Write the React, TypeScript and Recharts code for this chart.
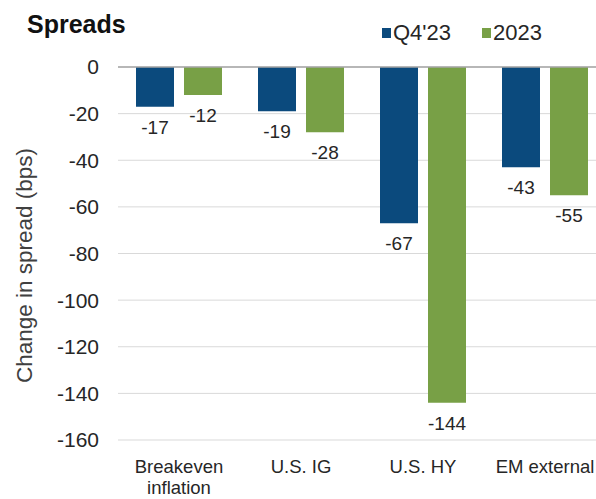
import { Bar, BarChart, CartesianGrid, LabelList, Legend, ReferenceLine, XAxis, YAxis } from 'recharts'

// Categories and values
const categories = ['Breakeven\ninflation', 'U.S. IG', 'U.S. HY', 'EM external']
const seriesNames = ["Q4'23", '2023']
const q4Values = [-17, -19, -67, -43]
const fullYearValues = [-12, -28, -144, -55]
const yTicks = [0, -20, -40, -60, -80, -100, -120, -140, -160]

const BLUE = '#0b4a7d'
const GREEN = '#78a046'
const FONT = '"Liberation Sans", Arial, sans-serif'
const TEXT = '#262626'

const data = categories.map((name, i) => ({
  name,
  q4: q4Values[i],
  year: fullYearValues[i],
}))

function CategoryTick(props: any) {
  const { x, y, payload } = props
  const lines = String(payload.value).split('\n')
  return (
    <text x={x} y={y} textAnchor="middle" fontFamily={FONT} fontSize={18.5} fill={TEXT}>
      {lines.map((line, i) => (
        <tspan key={i} x={x} dy={i === 0 ? 33 : 21}>
          {line}
        </tspan>
      ))}
    </text>
  )
}

function ValueLabel(props: any) {
  const { x, y, width, height, value } = props
  const bottom = Math.max(y, y + height)
  return (
    <text x={x + width / 2} y={bottom + 27} textAnchor="middle" fontFamily={FONT} fontSize={19} fill={TEXT}>
      {value}
    </text>
  )
}

function LegendContent(props: any) {
  // keep the series order of the reference (recharts sorts legend items by name)
  const payload = [...props.payload].sort(
    (a: any, b: any) => seriesNames.indexOf(a.value) - seriesNames.indexOf(b.value),
  )
  return (
    <div style={{ display: 'flex', fontFamily: FONT, fontSize: 22, color: TEXT, lineHeight: '22px' }}>
      {payload.map((item: any, i: number) => (
        <div key={i} style={{ display: 'flex', alignItems: 'center', marginRight: i === 0 ? 31 : 0 }}>
          <span style={{ width: 9, height: 10, background: item.color, display: 'inline-block', marginRight: 2 }} />
          <span>{item.value}</span>
        </div>
      ))}
    </div>
  )
}

function AxisTitle(props: any) {
  const { viewBox } = props
  const cx = 24
  const cy = viewBox.y + viewBox.height / 2 + 12
  return (
    <text
      x={cx}
      y={cy}
      transform={`rotate(-90 ${cx} ${cy})`}
      textAnchor="middle"
      dominantBaseline="central"
      fontFamily={FONT}
      fontSize={22.5}
      fill="#404040"
    >
      Change in spread (bps)
    </text>
  )
}

export default function App() {
  return (
    <div style={{ position: 'absolute', left: 0, top: 0, width: 596, height: 499, overflow: 'hidden', background: '#fff' }}>
      <div
        style={{
          position: 'absolute',
          left: 27,
          top: 12,
          fontFamily: FONT,
          fontWeight: 'bold',
          fontSize: 25,
          lineHeight: '25px',
          color: '#111',
          zIndex: 2,
        }}
      >
        Spreads
      </div>
      <BarChart
        width={640}
        height={499}
        data={data}
        margin={{ top: 67, right: 34, bottom: 0, left: 0 }}
        barSize={38}
        barGap={10}
      >
        <CartesianGrid vertical={false} stroke="#d9d9d9" />
        <XAxis
          dataKey="name"
          height={59}
          axisLine={false}
          tickLine={false}
          tickSize={0}
          tickMargin={0}
          interval={0}
          tick={<CategoryTick />}
        />
        <YAxis
          width={118}
          domain={[-160, 0]}
          ticks={yTicks}
          axisLine={false}
          tickLine={false}
          tickSize={0}
          tickMargin={19}
          tick={{ fontFamily: FONT, fontSize: 21, fill: TEXT }}
          label={<AxisTitle />}
        />
        <ReferenceLine y={0} stroke="#a6a6a6" strokeWidth={1.5} />
        <Legend
          verticalAlign="middle"
          align="center"
          content={<LegendContent />}
          wrapperStyle={{ position: 'absolute', top: 22, left: 382, width: 'auto', height: 'auto' }}
        />
        <Bar dataKey="q4" name={seriesNames[0]} fill={BLUE} isAnimationActive={false}>
          <LabelList dataKey="q4" content={<ValueLabel />} />
        </Bar>
        <Bar dataKey="year" name={seriesNames[1]} fill={GREEN} isAnimationActive={false}>
          <LabelList dataKey="year" content={<ValueLabel />} />
        </Bar>
      </BarChart>
    </div>
  )
}
